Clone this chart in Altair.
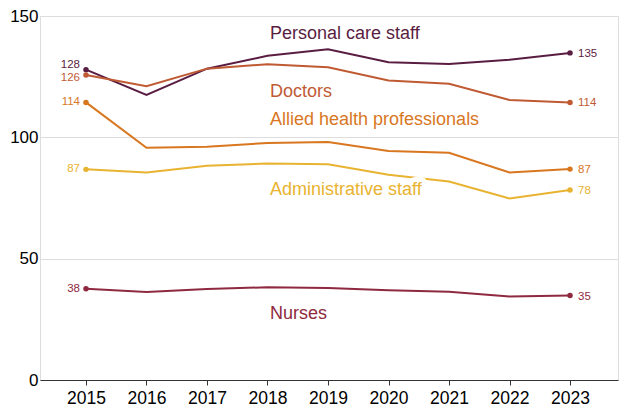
import altair as alt
import pandas as pd

years = [2015, 2016, 2017, 2018, 2019, 2020, 2021, 2022, 2023]
series_names = ["Personal care staff", "Doctors", "Allied health professionals",
                "Administrative staff", "Nurses"]
personal = [127.9, 117.5, 128.3, 133.6, 136.3, 130.9, 130.2, 132.0, 134.8]
doctors = [125.7, 121.1, 128.3, 130.1, 128.9, 123.4, 122.1, 115.4, 114.4]
allied = [114.4, 95.7, 96.1, 97.7, 98.1, 94.4, 93.6, 85.5, 86.9]
admin = [86.8, 85.5, 88.3, 89.2, 88.9, 84.6, 81.8, 74.8, 78.3]
nurses = [37.6, 36.3, 37.5, 38.2, 37.9, 37.0, 36.4, 34.4, 34.8]
colors = ["#5a1d42", "#bf5a33", "#d8771f", "#e8b330", "#8f2940"]

# series-name annotation anchors (year, value)
label_year = [2018, 2018, 2018, 2018, 2018]
label_value = [140.4, 116.8, 104.9, 76.3, 25.2]

all_vals = [personal, doctors, allied, admin, nurses]
rows = []
for name, vals in zip(series_names, all_vals):
    for y, v in zip(years, vals):
        rows.append({"series": name, "year": y, "value": v})
df = pd.DataFrame(rows)
labels_df = pd.DataFrame({"series": series_names, "year": label_year, "value": label_value})

FONT = "Liberation Sans"
color = alt.Color("series:N", scale=alt.Scale(domain=series_names, range=colors), legend=None)
x = alt.X("year:Q", scale=alt.Scale(domain=[2014.24, 2023.793], nice=False, zero=False),
          axis=alt.Axis(values=years, format="d", title=None, grid=False, ticks=True,
                        tickSize=5, tickColor="#333", domainColor="#333",
                        labelFontSize=17.5, labelColor="black", labelFont=FONT,
                        labelPadding=4))
y = alt.Y("value:Q", scale=alt.Scale(domain=[0, 150], nice=False),
          axis=alt.Axis(values=[0, 50, 100, 150], title=None, domain=False, ticks=False,
                        gridColor="#dddddd", labelFontSize=17, labelColor="black",
                        labelFont=FONT, labelPadding=2))

base = alt.Chart(df)
lines = base.mark_line(strokeWidth=2).encode(x=x, y=y, color=color, detail="series:N")
ends = base.transform_filter("datum.year == 2015 || datum.year == 2023")
points = ends.mark_circle(size=30, opacity=1).encode(x="year:Q", y="value:Q", color=color)

left = base.transform_filter("datum.year == 2015")
left_main = left.transform_filter(
    "datum.series != 'Personal care staff' && datum.series != 'Doctors'"
).mark_text(align="right", baseline="middle", dx=-6, fontSize=11.5, font=FONT).encode(
    x="year:Q", y="value:Q", text=alt.Text("value:Q", format=".0f"), color=color)
left_pc = left.transform_filter("datum.series == 'Personal care staff'").mark_text(
    align="right", baseline="middle", dx=-6, dy=-5, fontSize=11.5, font=FONT).encode(
    x="year:Q", y="value:Q", text=alt.Text("value:Q", format=".0f"), color=color)
left_doc = left.transform_filter("datum.series == 'Doctors'").mark_text(
    align="right", baseline="middle", dx=-6, dy=3, fontSize=11.5, font=FONT).encode(
    x="year:Q", y="value:Q", text=alt.Text("value:Q", format=".0f"), color=color)
right = base.transform_filter("datum.year == 2023").mark_text(
    align="left", baseline="middle", dx=8, dy=1, fontSize=11.5, font=FONT).encode(
    x="year:Q", y="value:Q", text=alt.Text("value:Q", format=".0f"), color=color)

lab = alt.Chart(labels_df)
halo = lab.transform_filter("datum.series == 'Administrative staff'").mark_text(
    align="left", baseline="alphabetic", dx=2.5, fontSize=18, font=FONT,
    stroke="white", strokeWidth=10, strokeJoin="round", fill="white").encode(
    x="year:Q", y="value:Q", text="series:N")
names = lab.mark_text(align="left", baseline="alphabetic", dx=2.5, fontSize=18,
                      font=FONT).encode(x="year:Q", y="value:Q", text="series:N", color=color)

chart = alt.layer(lines, halo, points, left_main, left_pc, left_doc, right, names).properties(
    width=578, height=364,
    autosize=alt.AutoSizeParams(type="none"),
    padding={"left": 32, "top": 8, "right": 2, "bottom": 31},
).configure_view(stroke=None).configure(background="white")

chart.save("out.html", embed_options={"renderer": "svg", "actions": False})
